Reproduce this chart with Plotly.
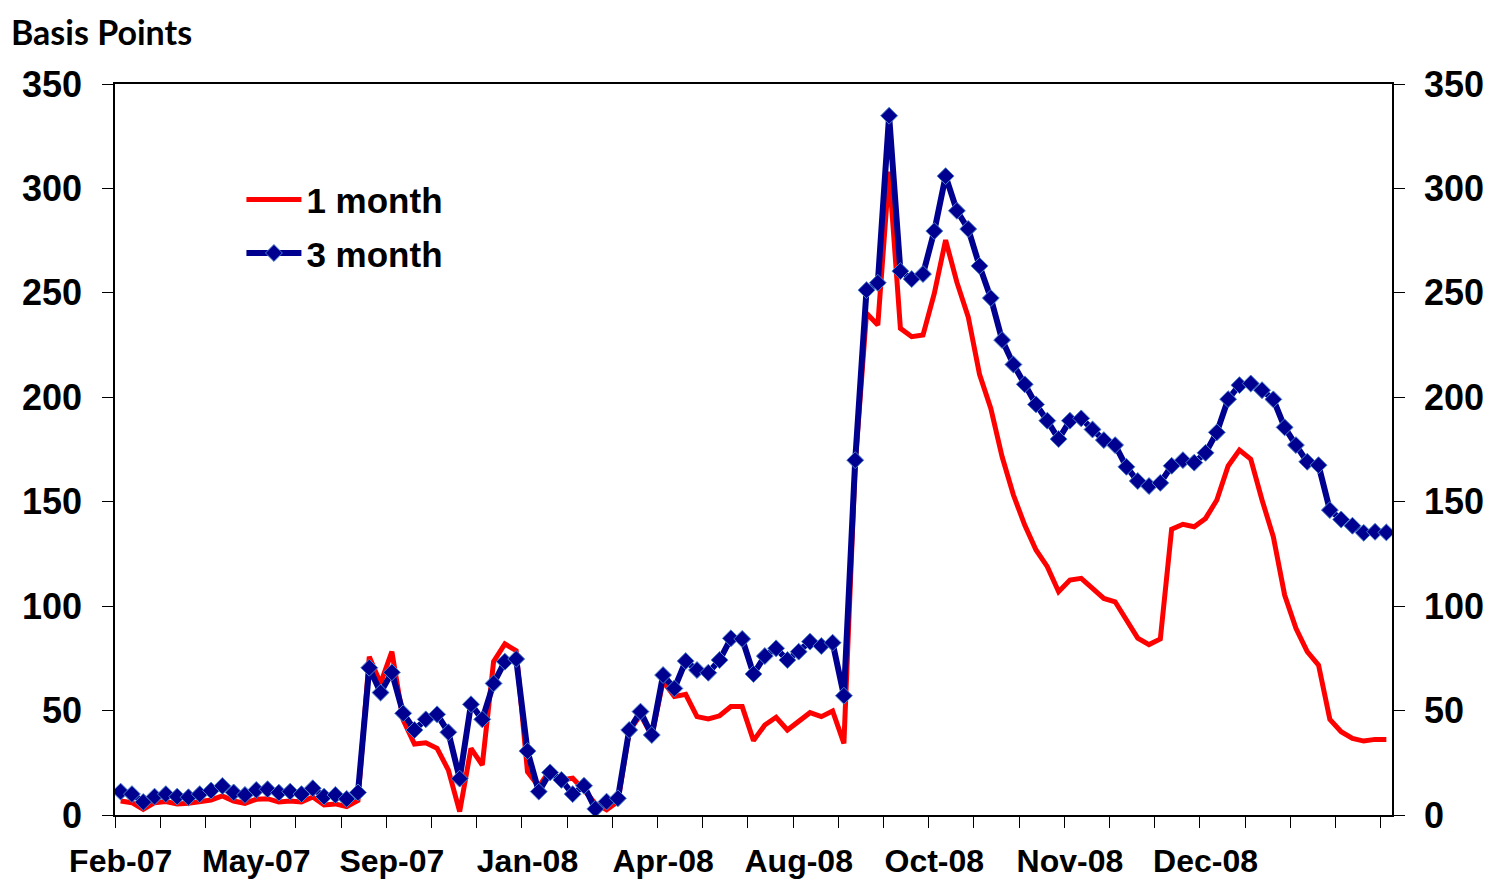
import plotly.graph_objects as go

# weekly spreads, basis points (113 observations)
one_month = [6.7, 5.9, 2.7, 5.9, 6.4, 5.3, 5.6, 6.4, 7.2, 9.1, 6.7, 5.6, 7.5, 7.8, 6.2, 6.7, 6.2, 8.6, 4.8, 5.3,
             4.0, 7.0, 75.8, 63.0, 78.2, 45.5, 34.0, 34.6, 31.9, 21.5, 1.6, 31.9, 23.9, 73.4, 81.9, 78.7, 20.7, 13.6,
             21.5, 16.8, 17.6, 12.0, 5.5, 2.5, 6.4, 40.0, 48.0, 38.0, 64.0, 56.7, 57.8, 47.1, 46.0, 47.5, 51.9, 51.9,
             35.6, 43.1, 46.8, 40.7, 45.0, 49.0, 47.1, 49.8, 34.3, 168.0, 240.2, 234.6, 308.0, 233.0, 229.0, 229.8,
             249.7, 275.3, 255.0, 238.5, 211.0, 194.7, 171.5, 153.2, 138.8, 126.9, 118.9, 106.9, 112.5, 113.3, 108.5,
             103.7, 102.1, 93.3, 84.7, 81.6, 84.3, 136.8, 139.2, 138.0, 142.0, 150.8, 167.1, 174.7, 170.4, 150.8,
             133.2, 105.3, 89.4, 78.2, 71.8, 45.8, 39.9, 36.7, 35.4, 36.2, 36.2]
three_month = [11.2, 10.0, 6.2, 8.8, 10.0, 8.8, 8.5, 10.0, 11.7, 13.9, 10.8, 9.6, 12.0, 12.3, 10.7, 11.2, 10.0, 12.8,
               8.8, 9.6, 7.7, 10.8, 70.5, 58.6, 68.3, 48.7, 40.7, 45.8, 48.2, 39.6, 17.4, 53.0, 45.8, 63.0, 73.4, 74.7,
               30.6, 11.2, 20.4, 16.8, 10.0, 14.0, 2.9, 6.4, 8.0, 40.7, 49.5, 38.3, 67.0, 60.6, 73.7, 69.4, 68.1, 74.2,
               84.6, 84.3, 67.5, 76.1, 79.8, 74.2, 78.2, 83.0, 80.9, 82.5, 57.1, 169.9, 251.3, 254.8, 334.8, 260.4,
               256.6, 259.0, 279.6, 305.9, 289.3, 280.6, 262.9, 247.5, 227.4, 215.7, 206.2, 196.6, 188.8, 180.0, 188.8,
               189.9, 184.6, 179.5, 177.1, 166.7, 159.9, 157.5, 159.0, 167.2, 169.9, 168.7, 173.4, 183.2, 199.1, 205.8,
               206.6, 203.4, 199.0, 185.6, 177.1, 169.1, 167.5, 146.0, 141.5, 138.5, 135.1, 135.6, 135.3]
label_pos = [0, 12, 24, 36, 48, 60, 72, 84, 96]
labels = ["Feb-07", "May-07", "Sep-07", "Jan-08", "Apr-08", "Aug-08", "Oct-08", "Nov-08", "Dec-08"]

idx = list(range(len(three_month)))
bold = dict(family="Liberation Sans, Arial", size=36, color="black", weight="bold")

fig = go.Figure()
fig.add_trace(go.Scatter(x=idx, y=one_month, name="1 month", mode="lines", legendgroup="a",
                         line=dict(color="#ff0000", width=5)))
fig.add_trace(go.Scatter(x=idx, y=three_month, name="3 month", mode="lines+markers", yaxis="y2", legendgroup="b",
                         line=dict(color="#000090", width=6),
                         marker=dict(symbol="diamond", size=13, color="#000090", line=dict(color="#4a7fc9", width=1))))

# page body has an 8px margin, so the figure is sized/offset to land the plot area where the original sits
fig.update_layout(
    width=1491, height=871, plot_bgcolor="white", paper_bgcolor="white",
    margin=dict(l=107, r=107, t=76, b=64),
    showlegend=True,
    legend=dict(x=0.099, y=0.882, xanchor="left", yanchor="top", bgcolor="rgba(0,0,0,0)", itemwidth=55,
                traceorder="grouped", tracegroupgap=5,
                font=dict(family="Liberation Sans, Arial", size=35, color="black", weight="bold")),
    xaxis=dict(range=[-0.5, len(idx) - 0.5], tickmode="array", tickvals=label_pos, ticktext=labels, ticks="",
               showline=True, linecolor="black", linewidth=1.5, mirror=True, showgrid=False, zeroline=False,
               ticklabelstandoff=17, automargin=False,
               tickfont=dict(family="Liberation Sans, Arial", size=32, color="black", weight="bold"),
               minor=dict(tickmode="array", tickvals=[i - 0.5 for i in range(0, len(idx), 4)], ticks="outside",
                          ticklen=11, tickwidth=1, tickcolor="black", showgrid=False)),
    yaxis=dict(range=[0, 350], dtick=50, ticks="outside", ticklen=11, tickcolor="black", showline=True,
               linecolor="black", linewidth=1.5, showgrid=False, zeroline=False, tickfont=bold,
               ticklabelstandoff=13, automargin=False),
    yaxis2=dict(range=[0, 350], dtick=50, overlaying="y", side="right", anchor="x", ticks="outside", ticklen=11,
                tickcolor="black", showline=True, linecolor="black", linewidth=1.5, showgrid=False,
                zeroline=False, tickfont=bold, ticklabelstandoff=12, automargin=False),
    annotations=[dict(text="Basis Points", xref="paper", yref="paper", x=-0.083, y=1.103, xanchor="left",
                      yanchor="top", showarrow=False,
                      font=dict(family="Lato, Noto Sans", size=34, color="black", weight="bold"))],
)

fig.write_html("out.html")
